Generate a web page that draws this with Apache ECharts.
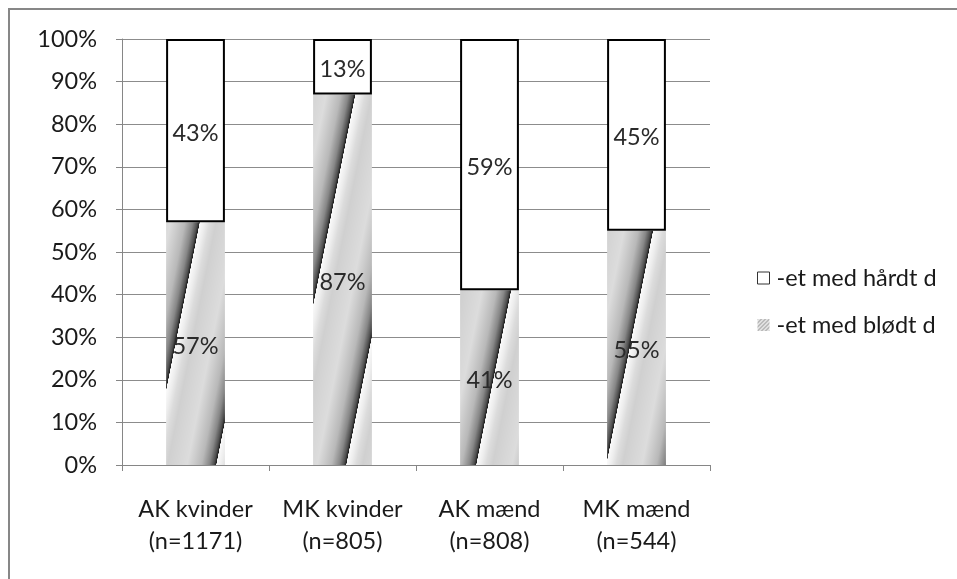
<!DOCTYPE html>
<html>
<head>
<meta charset="utf-8">
<script src="https://cdn.jsdelivr.net/npm/echarts@6/dist/echarts.min.js"></script>
<style>
  html, body { margin: 0; padding: 0; background: #fff; }
  #chart { width: 957px; height: 579px; }
</style>
</head>
<body>
<div id="chart"></div>
<script>
// Groups and their sample sizes
const categories = ['AK kvinder\n(n=1171)', 'MK kvinder\n(n=805)', 'AK mænd\n(n=808)', 'MK mænd\n(n=544)'];
// Share (%) of each pronunciation per group
const softD = [57, 87, 41, 55];
const hardD = [43, 13, 59, 45];
const seriesNames = ['-et med hårdt d', '-et med blødt d'];
const yTicks = [0, 10, 20, 30, 40, 50, 60, 70, 80, 90, 100];

const FONT = 'Lato, "Open Sans", sans-serif';
const FS = 23.5;

// Metallic diagonal stripe texture for the lower segments ("/" direction)
function stripeTexture() {
  const W = 65, H = 325, slope = 0.2;
  const c = document.createElement('canvas');
  c.width = W; c.height = H;
  const ctx = c.getContext('2d');
  const img = ctx.createImageData(W, H);
  const stops = [
    [0.00, 208], [0.30, 220], [0.52, 185], [0.64, 135],
    [0.71, 80], [0.745, 30], [0.75, 250], [0.82, 238], [0.90, 220], [1.00, 208]
  ];
  function shade(t) {
    for (let i = 1; i < stops.length; i++) {
      if (t <= stops[i][0]) {
        const a = stops[i - 1], b = stops[i];
        const f = (t - a[0]) / (b[0] - a[0]);
        return a[1] + (b[1] - a[1]) * f;
      }
    }
    return stops[stops.length - 1][1];
  }
  for (let y = 0; y < H; y++) {
    for (let x = 0; x < W; x++) {
      const p = ((x + slope * y) % W + W) % W;
      const v = Math.round(shade(p / W));
      const k = (y * W + x) * 4;
      img.data[k] = v; img.data[k + 1] = v; img.data[k + 2] = v; img.data[k + 3] = 255;
    }
  }
  ctx.putImageData(img, 0, 0);
  return c;
}

// Small hatch used for the legend swatch
function hatchTexture() {
  const c = document.createElement('canvas');
  c.width = 4; c.height = 4;
  const ctx = c.getContext('2d');
  ctx.fillStyle = '#e0e0e0';
  ctx.fillRect(0, 0, 4, 4);
  ctx.fillStyle = '#969696';
  for (let i = 0; i < 4; i++) ctx.fillRect(3 - i, i, 1, 1);
  return c;
}

const stripes = stripeTexture();
const hatch = hatchTexture();

const chart = echarts.init(document.getElementById('chart'), null, { renderer: 'canvas' });

const valueLabel = {
  show: true, position: 'inside', formatter: '{c}%', offset: [0, 3],
  fontFamily: FONT, fontSize: FS, color: '#2a2a2a'
};

const option = {
  backgroundColor: '#fff',
  animation: false,
  graphic: [{
    type: 'rect',
    shape: { x: 9, y: 9, width: 1000, height: 1000 },
    style: { fill: 'none', stroke: '#878787', lineWidth: 2 },
    silent: true
  }],
  grid: { left: 122, right: 247, top: 39, bottom: 114 },
  legend: {
    orient: 'vertical',
    left: 752,
    top: 261,
    itemWidth: 12,
    itemHeight: 12,
    itemGap: 23,
    textStyle: { fontFamily: FONT, fontSize: FS, color: '#1a1a1a', lineHeight: 24, padding: [0, 0, 0, 2] },
    data: [
      { name: seriesNames[0], icon: 'rect', itemStyle: { color: '#fff', borderColor: '#333', borderWidth: 1 } },
      { name: seriesNames[1], icon: 'rect', itemStyle: { color: { image: hatch, repeat: 'repeat' }, borderWidth: 0 } }
    ]
  },
  xAxis: {
    type: 'category',
    data: categories,
    axisLine: { lineStyle: { color: '#868686', width: 1 } },
    axisTick: { show: true, length: 6, lineStyle: { color: '#868686' } },
    axisLabel: {
      interval: 0,
      fontFamily: FONT, fontSize: FS, color: '#1a1a1a', lineHeight: 32, margin: 28
    }
  },
  yAxis: {
    type: 'value',
    min: 0,
    max: 100,
    interval: 10,
    axisLine: { show: true, lineStyle: { color: '#868686', width: 1 } },
    axisTick: { show: true, length: 6, lineStyle: { color: '#868686' } },
    splitLine: { lineStyle: { color: '#8c8c8c', width: 1 } },
    axisLabel: {
      fontFamily: FONT, fontSize: FS, color: '#1a1a1a', margin: 25,
      formatter: v => (yTicks.indexOf(v) >= 0 ? v + '%' : '')
    }
  },
  series: [
    {
      name: seriesNames[1],
      type: 'bar',
      stack: 'total',
      barWidth: '40%',
      data: softD,
      itemStyle: { color: { image: stripes, repeat: 'repeat' } },
      label: valueLabel
    },
    {
      name: seriesNames[0],
      type: 'bar',
      stack: 'total',
      barWidth: '40%',
      data: hardD,
      itemStyle: { color: '#fff', borderColor: '#000', borderWidth: 2 },
      label: valueLabel
    }
  ]
};

chart.setOption(option);
</script>
</body>
</html>
